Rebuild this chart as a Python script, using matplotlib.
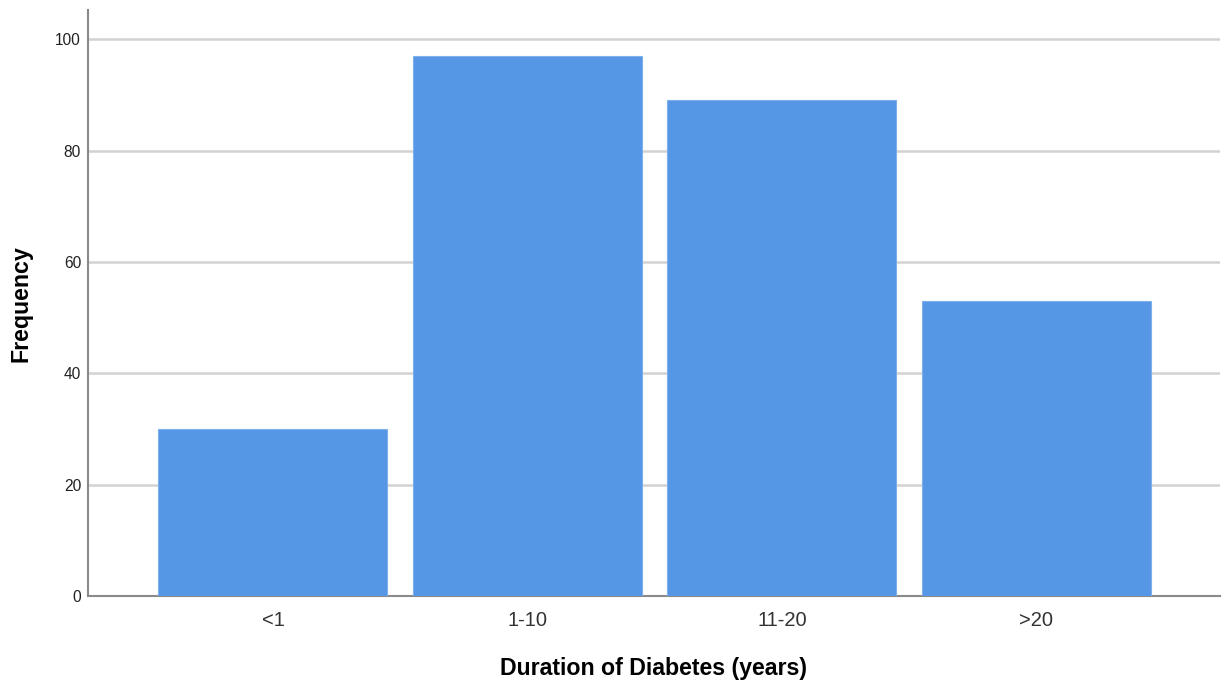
import matplotlib
matplotlib.use("Agg")
import matplotlib.pyplot as plt

# data
categories = ["<1", "1-10", "11-20", ">20"]
frequency = [30, 97, 89, 53]
y_ticks = [0, 20, 40, 60, 80, 100]

plt.rcParams['font.family'] = ['Liberation Sans', 'DejaVu Sans']

fig = plt.figure(figsize=(12.22, 6.82), dpi=100)
ax = fig.add_axes([0.072, 0.126, 0.926, 0.859])

x = list(range(len(categories)))
ax.bar(x, frequency, width=0.9, color="#5596E5", edgecolor="#7FB0EC", linewidth=0.8, zorder=3)

ax.set_xlim(-0.727, 3.72)
ax.set_ylim(0, 105.2)
ax.set_yticks(y_ticks)
ax.set_xticks(x)
ax.set_xticklabels(categories)
ax.yaxis.grid(True, color="#D2D2D2", linewidth=1.8, zorder=0)
ax.set_axisbelow(True)

for s in ["top", "right"]:
    ax.spines[s].set_visible(False)
for s in ["left", "bottom"]:
    ax.spines[s].set_color("#8A8A8A")
    ax.spines[s].set_linewidth(1.5)

ax.tick_params(axis="both", length=0)
ax.tick_params(axis="y", labelsize=11.2, pad=5, colors="#222222")
ax.tick_params(axis="x", labelsize=14.5, pad=10.5, colors="#333333")

ax.set_xlabel("Duration of Diabetes (years)", fontsize=16.7, fontweight="bold", labelpad=20)
ax.set_ylabel("Frequency", fontsize=16.7, fontweight="bold")
ax.yaxis.set_label_coords(-0.0486, 0.5)

fig.savefig("out.png", dpi=100)
